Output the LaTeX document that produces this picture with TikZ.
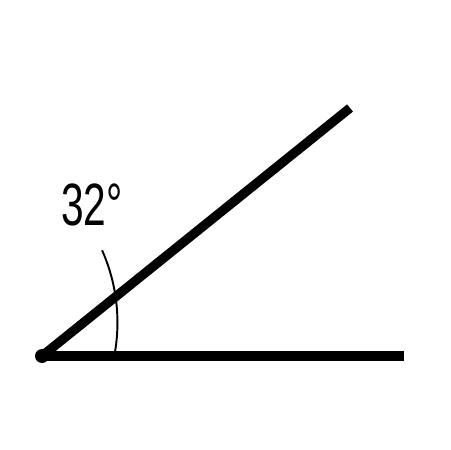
\documentclass[tikz,border=0pt]{standalone}
\usepackage{fontspec}
\setmainfont{Liberation Sans}
\begin{document}
\begin{tikzpicture}[x=0.02cm, y=-0.02cm, ray/.style={line width=5.3pt}, markarc/.style={line width=1.1pt}]
\useasboundingbox (0,0) rectangle (450,450);
\coordinate (o) at (42,356);
\coordinate (a) at (404,356);
\coordinate (b) at (350,108);
\coordinate (arcstart) at (115,352);
\node[anchor=base, xscale=0.68, font=\fontsize{34}{40}\selectfont] (angle) at (92,225) {32°};
\draw [ray](o) -- (a);
\draw [ray](o) -- (b);
\fill (o) circle[radius=0.14cm];
\draw [markarc](arcstart) arc[start angle=-9.5, end angle=24, radius=3.56cm];
\end{tikzpicture}
\end{document}
